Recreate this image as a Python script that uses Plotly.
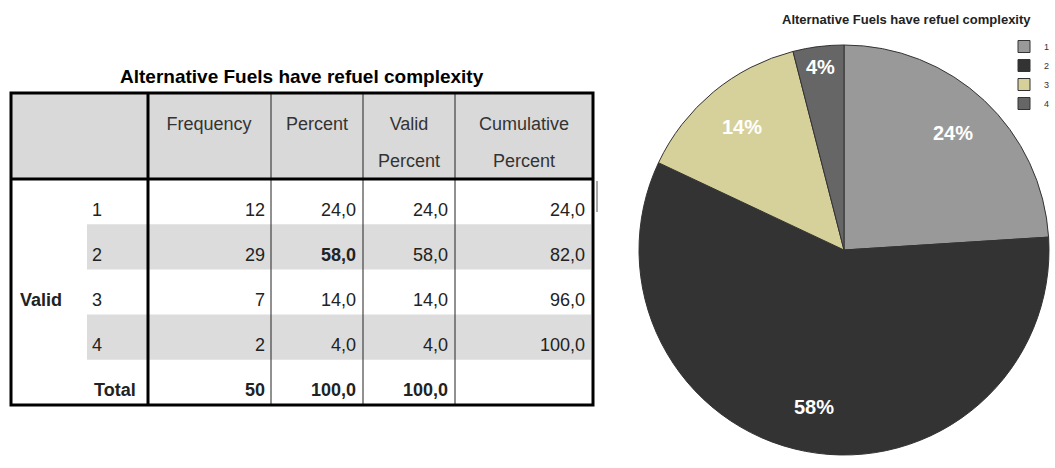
import math
import plotly.graph_objects as go

title = "Alternative Fuels have refuel complexity"
categories = ["1", "2", "3", "4"]
frequency = [12, 29, 7, 2]
percent = [24.0, 58.0, 14.0, 4.0]
valid_percent = [24.0, 58.0, 14.0, 4.0]
cumulative = [24.0, 82.0, 96.0, 100.0]
total_frequency = 50
total_percent = 100.0
total_valid = 100.0
header_top = ["Frequency", "Percent", "Valid", "Cumulative"]
header_bottom = ["", "", "Percent", "Percent"]
pie_colors = ["#999999", "#333333", "#d6d19a", "#666666"]

W, H = 1055, 468
FONT = "Liberation Sans, Arial, sans-serif"

# table geometry, in pixels (axes are mapped 1:1 to the page)
left, right, top, bottom = 11, 593, 93, 405
head_bottom = 179
col_edges = [148, 271, 363, 455]
row_h = (bottom - head_bottom) / 5
num_right = [265, 356, 448, 585]
head_center = [209, 317, 409, 524]


def fmt(v):
    return f"{v:.1f}".replace(".", ",")


def row_y(i):
    return head_bottom + i * row_h + 32


fig = go.Figure()

shapes = [dict(type="rect", x0=left, x1=right, y0=top, y1=head_bottom,
               fillcolor="#d9d9d9", line_width=0, layer="below")]
for i in (1, 3):
    shapes.append(dict(type="rect", x0=87, x1=right - 2,
                       y0=head_bottom + i * row_h, y1=head_bottom + (i + 1) * row_h,
                       fillcolor="#dcdcdc", line_width=0, layer="below"))
for x in col_edges[1:]:
    shapes.append(dict(type="line", x0=x, x1=x, y0=top, y1=bottom,
                       line=dict(color="#222", width=1)))
shapes.append(dict(type="line", x0=col_edges[0], x1=col_edges[0], y0=top, y1=bottom,
                   line=dict(color="#000", width=3)))
shapes.append(dict(type="line", x0=left, x1=right, y0=head_bottom, y1=head_bottom,
                   line=dict(color="#000", width=3)))
shapes.append(dict(type="rect", x0=left, x1=right, y0=top, y1=bottom,
                   line=dict(color="#000", width=3)))
shapes.append(dict(type="line", x0=597, x1=597, y0=181, y1=212,
                   line=dict(color="#555", width=1)))
for s in shapes:
    s.update(xref="x", yref="y")

# header texts (two lines, widely spaced as in SPSS output)
fig.add_trace(go.Scatter(
    x=head_center + head_center, y=[125] * 4 + [162] * 4, mode="text",
    text=header_top + header_bottom, textposition="middle center",
    textfont=dict(family=FONT, size=18, color="#333"),
    hoverinfo="skip", showlegend=False))

# row labels
fig.add_trace(go.Scatter(
    x=[92] * 4 + [94, 20], y=[row_y(i) for i in range(4)] + [row_y(4), row_y(2)],
    mode="text", text=categories + ["<b>Total</b>", "<b>Valid</b>"],
    textposition="middle right",
    textfont=dict(family=FONT, size=18, color="#222"),
    hoverinfo="skip", showlegend=False))

# numeric columns
columns = [
    [str(v) for v in frequency] + [f"<b>{total_frequency}</b>"],
    [f"<b>{fmt(v)}</b>" if v == max(percent) else fmt(v) for v in percent]
    + [f"<b>{fmt(total_percent)}</b>"],
    [fmt(v) for v in valid_percent] + [f"<b>{fmt(total_valid)}</b>"],
    [fmt(v) for v in cumulative] + [""],
]
for xr, col in zip(num_right, columns):
    fig.add_trace(go.Scatter(
        x=[xr] * len(col), y=[row_y(i) for i in range(len(col))],
        mode="text", text=col, textposition="middle left",
        textfont=dict(family=FONT, size=18, color="#222"),
        hoverinfo="skip", showlegend=False))

# pie
cx, cy, r = 844, 250, 205
fig.add_trace(go.Pie(
    labels=categories, values=frequency, sort=False,
    direction="clockwise", rotation=0,
    marker=dict(colors=pie_colors, line=dict(color="#333", width=1)),
    textinfo="none",
    domain=dict(x=[(cx - r) / W, (cx + r) / W],
                y=[(H - cy - r) / H, (H - cy + r) / H]),
    hoverinfo="label+percent",
))

annotations = [
    dict(text=f"<b>{title}</b>", x=302, y=76, xref="x", yref="y",
         showarrow=False, font=dict(family=FONT, size=19, color="#000")),
    dict(text=f"<b>{title}</b>", x=906, y=19, xref="x", yref="y",
         showarrow=False, font=dict(family=FONT, size=13, color="#222")),
]

# slice labels, placed further out than plotly's inside text
# (annotations so they sit on top of the pie layer)
total = sum(frequency)
acc = 0
for f in frequency:
    mid = (acc + f / 2) / total * 2 * math.pi
    acc += f
    k = 0.78 if f / total > 0.1 else 0.9
    annotations.append(dict(
        text=f"<b>{round(100 * f / total)}%</b>",
        x=cx + k * r * math.sin(mid), y=cy - k * r * math.cos(mid),
        xref="x", yref="y", showarrow=False,
        font=dict(family=FONT, size=20, color="white")))

fig.update_layout(
    width=W, height=H,
    margin=dict(l=0, r=0, t=0, b=0),
    paper_bgcolor="white", plot_bgcolor="rgba(0,0,0,0)",
    xaxis=dict(range=[0, W], domain=[0, 1], visible=False, fixedrange=True),
    yaxis=dict(range=[H, 0], domain=[0, 1], visible=False, fixedrange=True),
    shapes=shapes,
    annotations=annotations,
    showlegend=True,
    legend=dict(x=1, y=1 - 32 / H, xanchor="right", yanchor="top",
                font=dict(family=FONT, size=9, color="#333"),
                tracegroupgap=0, itemwidth=30),
)

fig.write_html("out.html", config={"displayModeBar": False},
               post_script="document.body.style.margin='0';")
